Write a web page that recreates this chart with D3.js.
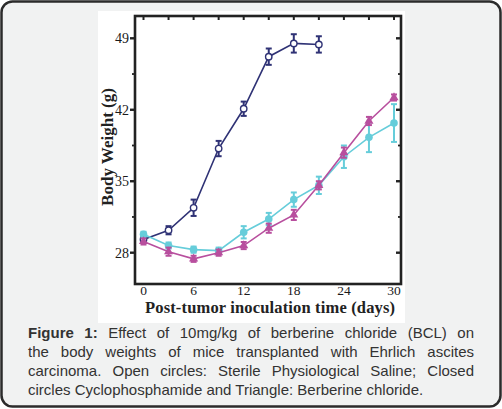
<!DOCTYPE html>
<html>
<head>
<meta charset="utf-8">
<script src="https://cdn.jsdelivr.net/npm/d3@7"></script>
<style>
  body { margin: 0; background: #fff; }
  #wrap { position: relative; width: 502px; height: 409px; }
  #caption {
    position: absolute; left: 28px; top: 323px; width: 446px;
    font-family: "Liberation Sans", Arial, sans-serif; font-size: 15px;
    line-height: 19px; color: #333;
  }
  #caption div { text-align: justify; text-align-last: justify; white-space: nowrap; }
  #caption div.last { text-align-last: left; }
</style>
</head>
<body>
<div id="wrap">
  <svg id="chart" width="502" height="409"></svg>
  <div id="caption">
    <div><b>Figure 1:</b> Effect of 10mg/kg of berberine chloride (BCL) on</div>
    <div>the body weights of mice transplanted with Ehrlich ascites</div>
    <div>carcinoma. Open circles: Sterile Physiological Saline; Closed</div>
    <div class="last">circles Cyclophosphamide and Triangle: Berberine chloride.</div>
  </div>
</div>
<script>
var days = [0, 3, 6, 9, 12, 15, 18, 21, 24, 27, 30];
var salineWeight = [29.3, 30.2, 32.4, 38.2, 42.1, 47.2, 48.5, 48.4];
var salineErr = [0.3, 0.4, 0.8, 0.75, 0.7, 0.8, 0.9, 0.8];
var cycloWeight = [29.8, 28.7, 28.3, 28.2, 30.0, 31.3, 33.2, 34.6, 37.4, 39.3, 40.7];
var cycloErr = [0.25, 0.3, 0.3, 0.3, 0.6, 0.6, 0.7, 0.85, 1.1, 1.45, 1.85];
var bclWeight = [29.1, 28.1, 27.4, 28.0, 28.7, 30.4, 31.7, 34.6, 37.8, 40.9, 43.2];
var bclErr = [0.3, 0.4, 0.3, 0.3, 0.35, 0.45, 0.5, 0.4, 0.5, 0.4, 0.3];
var yMajor = [28, 35, 42, 49];
var yMinor = [31.5, 38.5, 45.5];
var xLabels = [0, 6, 12, 18, 24, 30];
var xTopTicks = [0, 3, 6, 9, 12, 15, 18, 21, 24, 27, 30];

var svg = d3.select("#chart");
var serif = "'Liberation Serif', 'Times New Roman', serif";

/* outer card */
svg.append("rect")
    .attr("x", 1.5).attr("y", 1.5).attr("width", 499).attr("height", 405)
    .attr("rx", 11).attr("fill", "#f1f2f2")
    .attr("stroke", "#2b2b2b").attr("stroke-width", 2.5);
/* white panel behind figure */
svg.append("rect")
    .attr("x", 98).attr("y", 11).attr("width", 307).attr("height", 312)
    .attr("fill", "#fff");

var x = d3.scaleLinear().domain([0, 30]).range([143.5, 394]);
var y = d3.scaleLinear().domain([28, 49]).range([252.7, 38.3]);
var fL = 135, fR = 401, fT = 16, fB = 284; // plot frame edges

var g = svg.append("g");

/* frame */
g.append("rect")
    .attr("x", fL).attr("y", fT)
    .attr("width", fR - fL).attr("height", fB - fT)
    .attr("fill", "none").attr("stroke", "#222").attr("stroke-width", 2.6);

/* left + right ticks */
yMajor.forEach(function(v){
    g.append("line").attr("x1", fL - 5).attr("x2", fL).attr("y1", y(v)).attr("y2", y(v))
        .attr("stroke", "#222").attr("stroke-width", 2.4);
    g.append("line").attr("x1", fR - 5).attr("x2", fR).attr("y1", y(v)).attr("y2", y(v))
        .attr("stroke", "#222").attr("stroke-width", 2.4);
});
yMinor.forEach(function(v){
    g.append("line").attr("x1", fL - 3).attr("x2", fL).attr("y1", y(v)).attr("y2", y(v))
        .attr("stroke", "#222").attr("stroke-width", 1.8);
    g.append("line").attr("x1", fR - 3).attr("x2", fR).attr("y1", y(v)).attr("y2", y(v))
        .attr("stroke", "#222").attr("stroke-width", 1.8);
});
xTopTicks.forEach(function(v){
    g.append("line").attr("x1", x(v)).attr("x2", x(v)).attr("y1", fT).attr("y2", fT + 4)
        .attr("stroke", "#222").attr("stroke-width", 2);
});

/* tick labels */
g.selectAll(".ylab").data(yMajor).enter().append("text")
    .attr("class", "ylab")
    .attr("x", fL - 6).attr("y", function(d){ return y(d); })
    .attr("dy", "0.35em").attr("text-anchor", "end")
    .attr("font-family", serif).attr("font-size", 14).attr("fill", "#1a1a1a")
    .text(function(d){ return d; });
g.selectAll(".xlab").data(xLabels).enter().append("text")
    .attr("class", "xlab")
    .attr("x", function(d){ return x(d); }).attr("y", 294.5)
    .attr("text-anchor", "middle")
    .attr("font-family", serif).attr("font-size", 13.5).attr("fill", "#1a1a1a")
    .text(function(d){ return d; });

/* axis titles */
g.append("text")
    .attr("x", 270).attr("y", 313).attr("text-anchor", "middle")
    .attr("font-family", serif).attr("font-size", 16.5).attr("font-weight", "bold")
    .attr("fill", "#222").attr("textLength", 250)
    .text("Post-tumor inoculation time (days)");
g.append("text")
    .attr("transform", "translate(113,147) rotate(-90)")
    .attr("text-anchor", "middle")
    .attr("font-family", serif).attr("font-size", 17).attr("font-weight", "bold")
    .attr("fill", "#222")
    .text("Body Weight (g)");

function drawSeries(vals, errs, color, marker){
    var pts = vals.map(function(v, i){ return {d: days[i], v: v, e: errs[i]}; });
    var line = d3.line().x(function(p){ return x(p.d); }).y(function(p){ return y(p.v); });
    g.append("path").datum(pts).attr("d", line)
        .attr("fill", "none").attr("stroke", color).attr("stroke-width", 1.6);
    var eb = g.append("g");
    pts.forEach(function(p){
        var cx = x(p.d), y1 = y(p.v + p.e), y2 = y(p.v - p.e);
        eb.append("line").attr("x1", cx).attr("x2", cx).attr("y1", y1).attr("y2", y2)
            .attr("stroke", color).attr("stroke-width", 2);
        [y1, y2].forEach(function(yy){
            eb.append("line").attr("x1", cx - 3).attr("x2", cx + 3).attr("y1", yy).attr("y2", yy)
                .attr("stroke", color).attr("stroke-width", 2);
        });
    });
    var m = g.append("g");
    pts.forEach(function(p){
        var cx = x(p.d), cy = y(p.v);
        if (marker === "open") {
            m.append("circle").attr("cx", cx).attr("cy", cy).attr("r", 3.2)
                .attr("fill", "#fff").attr("stroke", color).attr("stroke-width", 1.4);
        } else if (marker === "closed") {
            m.append("circle").attr("cx", cx).attr("cy", cy).attr("r", 3.8)
                .attr("fill", color);
        } else {
            m.append("path")
                .attr("d", d3.symbol().type(d3.symbolTriangle).size(36)())
                .attr("transform", "translate(" + cx + "," + cy + ")")
                .attr("fill", color);
        }
    });
}

drawSeries(salineWeight, salineErr, "#2f3275", "open");
drawSeries(cycloWeight, cycloErr, "#66cdda", "closed");
drawSeries(bclWeight, bclErr, "#b84f9e", "tri");
</script>
</body>
</html>
